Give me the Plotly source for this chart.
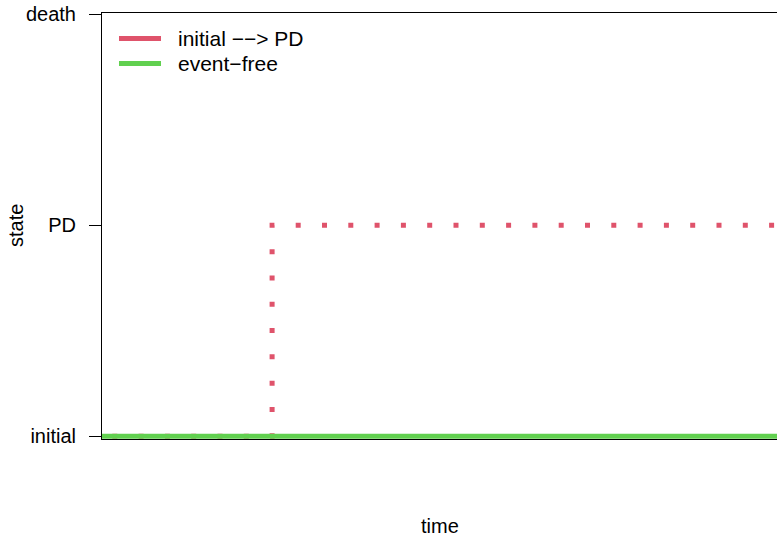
import plotly.graph_objects as go

# data
state_labels = ["initial", "PD", "death"]
state_values = [0, 1, 2]

pd_time = [0.0, 0.252, 1.0]
pd_state = [0, 1, 1]

ef_time = [0.0, 1.0]
ef_state = [0, 0]

legend_names = ["initial \u2212\u2212> PD", "event\u2212free"]
red = "#DF536B"
green = "#61D04F"
FONT = "Liberation Sans, Arial, sans-serif"

# plot-area geometry in page pixels
PLOT_L, PLOT_R, PLOT_T, PLOT_B = 102, 777, 13, 439.5
PW, PH = PLOT_R - PLOT_L, PLOT_B - PLOT_T


def px(x):
    return (x - PLOT_L) / PW


def py(y):
    return (PLOT_B - y) / PH


fig = go.Figure()
fig.add_trace(go.Scatter(x=pd_time, y=pd_state, mode="lines", line_shape="hv",
                         line=dict(color=red, width=5, dash="0px,10.3px,5px,11px"),
                         showlegend=False, hoverinfo="skip"))
fig.add_trace(go.Scatter(x=ef_time, y=ef_state, mode="lines",
                         line=dict(color=green, width=5),
                         showlegend=False, hoverinfo="skip"))

shapes = []
annotations = []
for i, (name, col) in enumerate(zip(legend_names, [red, green])):
    yy = 38.5 + i * 25
    shapes.append(dict(type="line", xref="paper", yref="paper",
                       x0=px(119), x1=px(161), y0=py(yy), y1=py(yy),
                       line=dict(color=col, width=5)))
    annotations.append(dict(text=name, xref="paper", yref="paper", x=px(176), y=py(yy),
                            xanchor="left", yanchor="middle", showarrow=False,
                            font=dict(size=21)))

annotations += [
    dict(text="time", xref="paper", yref="paper", x=0.5, y=py(527),
         xanchor="center", yanchor="middle", showarrow=False, font=dict(size=20)),
    dict(text="state", xref="paper", yref="paper", x=px(16), y=0.5,
         xanchor="center", yanchor="middle", showarrow=False, textangle=-90,
         font=dict(size=20)),
]

fig.update_layout(
    width=777, height=537,
    margin=dict(l=PLOT_L, r=0, t=PLOT_T, b=537 - PLOT_B),
    plot_bgcolor="white", paper_bgcolor="white",
    font=dict(family=FONT, size=20, color="black"),
    showlegend=False,
    xaxis=dict(range=[0, 1], showgrid=False, zeroline=False, showticklabels=False,
               ticks="", showline=True, mirror=True, linecolor="black", linewidth=1,
               automargin=False),
    yaxis=dict(range=[-0.013, 2.005], tickvals=state_values, ticktext=state_labels,
               showgrid=False, zeroline=False, ticks="outside", ticklen=12,
               tickcolor="black", tickwidth=1, showline=True, linecolor="black",
               linewidth=1, ticklabelstandoff=9, tickfont=dict(size=20),
               automargin=False, ticklabeloverflow="allow"),
    shapes=shapes,
    annotations=annotations,
)

fig.write_html("out.html", config={"displayModeBar": False},
               post_script="document.body.style.margin='0';document.body.style.overflow='hidden';")
